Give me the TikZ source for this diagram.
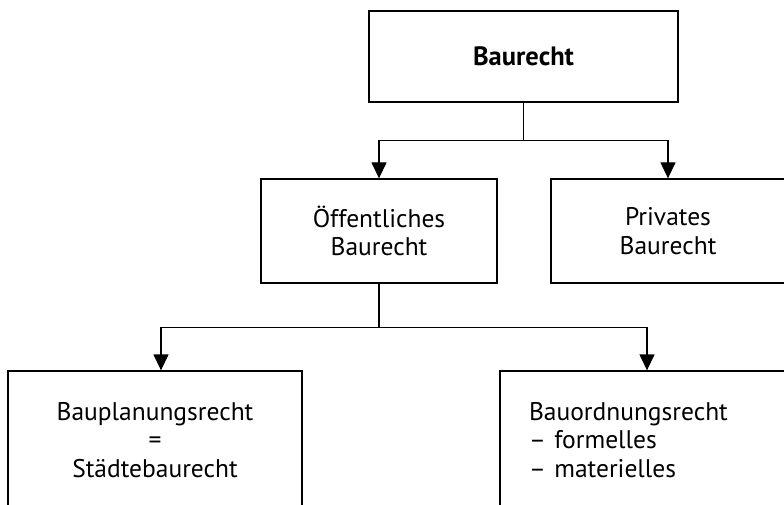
\documentclass[tikz,border=0pt]{standalone}
\usepackage{fontspec}
\setmainfont{PT Sans}
\usetikzlibrary{arrows.meta,calc}
\tikzset{
  rbox/.style={draw, line width=1.3pt, shape=rectangle, inner sep=0pt, align=center,
    font=\fontsize{25.5}{28.5}\selectfont},
  arr/.style={line width=1.3pt, -{Triangle[width=15pt,length=16pt]}},
  ln/.style={line width=1.3pt}
}

\begin{document}
\begin{tikzpicture}[x=1pt, y=1pt]
\useasboundingbox (0,0) rectangle (784,504);
\node[rbox, minimum width=309, minimum height=91, font=\fontsize{26.5}{29}\selectfont\bfseries] (baurecht) at (523.5,447.5) {Baurecht};
\node[rbox, minimum width=236, minimum height=104] (oeff) at (379,273) {Öffentliches\\Baurecht};
\node[rbox, minimum width=234, minimum height=104] (priv) at (668,273) {Privates\\Baurecht};
\node[rbox, minimum width=294, minimum height=138] (bplan) at (155,64) {Bauplanungsrecht\\=\\Städtebaurecht};
\node[rbox, minimum width=294, minimum height=138, text width=236, align=left] (bord) at (647,64) {Bauordnungsrecht\\– formelles\\– materielles};
% connectors
\coordinate (sp1) at ($(baurecht.south)+(0,-38)$);
\coordinate (sp2) at ($(oeff.south)+(0,-44)$);
\draw[ln] (baurecht.south) -- (sp1);
\draw[arr] (sp1) -| (oeff.north);
\draw[arr] (sp1) -| (priv.north);
\draw[ln] (oeff.south) -- (sp2);
\draw[arr] (sp2) -| ([xshift=6]bplan.north);
\draw[arr] (sp2) -| (bord.north);
\end{tikzpicture}
\end{document}
